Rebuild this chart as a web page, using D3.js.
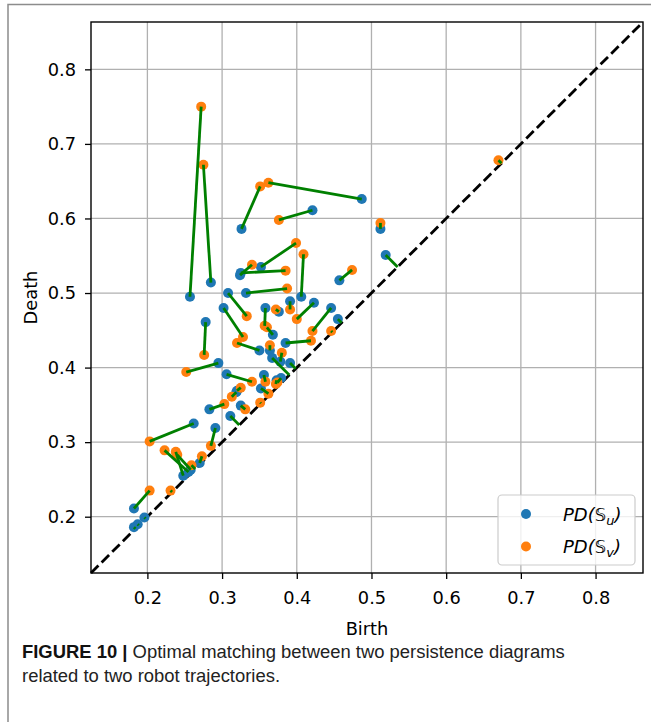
<!DOCTYPE html>
<html>
<head>
  <script src="https://d3js.org/d3.v7.min.js"></script>
  <style>
    html, body { margin: 0; padding: 0; background: white; }
    .tick text { font-family: "DejaVu Sans", sans-serif; font-size: 17.8px; fill: #000; }
    .axisLabel { font-family: "DejaVu Sans", sans-serif; font-size: 17.8px; fill: #000; }
    .legendText { font-family: "DejaVu Sans", sans-serif; font-size: 18px; font-style: italic; fill: #000; }
    .caption { font-family: "Liberation Sans Narrow", "Liberation Sans", Arial, sans-serif; font-size: 19px; fill: #222; }
  </style>
</head>
<body>
<script>
  const width = 651;
  const height = 722;
  const frame = {left: 91, right: 643, top: 22, bottom: 573};

  // persistence diagram of S_u : [birth, death]
  const pdU = [
    [0.257, 0.495], [0.285, 0.514], [0.326, 0.586], [0.487, 0.626], [0.421, 0.611],
    [0.512, 0.586], [0.519, 0.551], [0.352, 0.535], [0.324, 0.524], [0.325, 0.527],
    [0.406, 0.495], [0.457, 0.517], [0.332, 0.500], [0.308, 0.500], [0.302, 0.480],
    [0.358, 0.480], [0.368, 0.444], [0.376, 0.475], [0.391, 0.489], [0.423, 0.487],
    [0.446, 0.480], [0.455, 0.465], [0.385, 0.433], [0.350, 0.423], [0.278, 0.461],
    [0.364, 0.423], [0.367, 0.413], [0.378, 0.408], [0.391, 0.406], [0.295, 0.406],
    [0.306, 0.391], [0.356, 0.390], [0.373, 0.383], [0.379, 0.386], [0.320, 0.369],
    [0.319, 0.367], [0.352, 0.372], [0.283, 0.344], [0.325, 0.349], [0.311, 0.335],
    [0.262, 0.325], [0.291, 0.319], [0.255, 0.260], [0.248, 0.255], [0.258, 0.263],
    [0.270, 0.272], [0.182, 0.211], [0.196, 0.199], [0.182, 0.186], [0.187, 0.190]
  ];

  // persistence diagram of S_v : [birth, death]
  const pdV = [
    [0.272, 0.750], [0.275, 0.672], [0.351, 0.643], [0.362, 0.648], [0.376, 0.598],
    [0.512, 0.594], [0.670, 0.678], [0.399, 0.567], [0.340, 0.538], [0.385, 0.530],
    [0.409, 0.552], [0.474, 0.531], [0.387, 0.506], [0.333, 0.469], [0.328, 0.441],
    [0.357, 0.456], [0.360, 0.454], [0.372, 0.478], [0.391, 0.478], [0.400, 0.465],
    [0.421, 0.449], [0.446, 0.449], [0.419, 0.436], [0.320, 0.433], [0.276, 0.417],
    [0.364, 0.430], [0.380, 0.420], [0.252, 0.394], [0.340, 0.381], [0.358, 0.381],
    [0.372, 0.378], [0.374, 0.380], [0.325, 0.373], [0.313, 0.361], [0.362, 0.365],
    [0.303, 0.351], [0.331, 0.344], [0.351, 0.353], [0.203, 0.301], [0.285, 0.295],
    [0.223, 0.289], [0.238, 0.287], [0.240, 0.283], [0.273, 0.281], [0.259, 0.269],
    [0.231, 0.235], [0.203, 0.235]
  ];

  // optimal matching [index in pdU, index in pdV], -1 = matched to the diagonal
  const matching = [
    [0, 0], [1, 1], [2, 2], [3, 3], [4, 4], [5, 5], [6, -1], [-1, 6], [7, 7], [8, 8],
    [9, 9], [10, 10], [11, 11], [12, 12], [13, 13], [14, 14], [15, 15], [16, 16], [17, 17],
    [18, 18], [19, 19], [20, 20], [21, -1], [-1, 21], [22, 22], [23, 23], [24, 24], [25, 25],
    [26, -1], [27, 26], [28, -1], [29, 27], [30, 28], [31, 29], [32, 30], [33, 31], [34, 32],
    [35, 33], [36, 34], [37, 35], [38, 36], [39, -1], [-1, 37], [40, 38], [41, 39], [42, 40],
    [43, 41], [44, 42], [45, 43], [-1, 44], [-1, 45], [46, 46], [47, -1], [48, -1], [49, -1]
  ];

  const ticks = [0.2, 0.3, 0.4, 0.5, 0.6, 0.7, 0.8];
  const limits = [0.1245, 0.8635];

  const svg = d3.select("body").append("svg")
    .attr("width", width)
    .attr("height", height);

  // outer figure border (runs off the right/bottom edge)
  svg.append("rect")
    .attr("x", 8).attr("y", 4.5)
    .attr("width", 800).attr("height", 900)
    .attr("fill", "none")
    .attr("stroke", "#8c8c8c")
    .attr("stroke-width", 1.5);

  const x = d3.scaleLinear().domain(limits).range([frame.left, frame.right]);
  const y = d3.scaleLinear().domain(limits).range([frame.bottom, frame.top]);

  // grid
  const grid = svg.append("g").attr("stroke", "#b0b0b0").attr("stroke-width", 1.3);
  grid.selectAll(".gx").data(ticks).enter().append("line")
    .attr("x1", d => x(d)).attr("x2", d => x(d))
    .attr("y1", frame.top).attr("y2", frame.bottom);
  grid.selectAll(".gy").data(ticks).enter().append("line")
    .attr("y1", d => y(d)).attr("y2", d => y(d))
    .attr("x1", frame.left).attr("x2", frame.right);

  // axes
  const xAxis = svg.append("g")
    .attr("transform", `translate(0,${frame.bottom})`)
    .call(d3.axisBottom(x).tickValues(ticks).tickFormat(d3.format(".1f")).tickSize(6).tickPadding(12));
  const yAxis = svg.append("g")
    .attr("transform", `translate(${frame.left},0)`)
    .call(d3.axisLeft(y).tickValues(ticks).tickFormat(d3.format(".1f")).tickSize(6).tickPadding(9));
  [xAxis, yAxis].forEach(a => {
    a.select(".domain").remove();
    a.selectAll(".tick line").attr("stroke", "#000").attr("stroke-width", 1.3);
    a.attr("font-family", null).attr("font-size", null);
  });

  // diagonal
  svg.append("line")
    .attr("x1", x(limits[0])).attr("y1", y(limits[0]))
    .attr("x2", x(limits[1])).attr("y2", y(limits[1]))
    .attr("stroke", "#000")
    .attr("stroke-width", 2.8)
    .attr("stroke-dasharray", "10.5,4.5");

  // points
  svg.append("g").selectAll("circle")
    .data(pdU).enter().append("circle")
    .attr("cx", d => x(d[0])).attr("cy", d => y(d[1]))
    .attr("r", 5).attr("fill", "#1f77b4");
  svg.append("g").selectAll("circle")
    .data(pdV).enter().append("circle")
    .attr("cx", d => x(d[0])).attr("cy", d => y(d[1]))
    .attr("r", 5).attr("fill", "#ff7f0e");

  // matching lines (unmatched points go to their diagonal projection)
  function diagProj(p) { const m = (p[0] + p[1]) / 2; return [m, m]; }
  const segments = matching.map(([i, j]) => {
    const a = i >= 0 ? pdU[i] : diagProj(pdV[j]);
    const b = j >= 0 ? pdV[j] : diagProj(pdU[i]);
    return [a, b];
  });
  svg.append("g").selectAll("line")
    .data(segments).enter().append("line")
    .attr("x1", d => x(d[0][0])).attr("y1", d => y(d[0][1]))
    .attr("x2", d => x(d[1][0])).attr("y2", d => y(d[1][1]))
    .attr("stroke", "#008000")
    .attr("stroke-width", 2.8);

  // frame
  svg.append("rect")
    .attr("x", frame.left).attr("y", frame.top)
    .attr("width", frame.right - frame.left)
    .attr("height", frame.bottom - frame.top)
    .attr("fill", "none")
    .attr("stroke", "#000")
    .attr("stroke-width", 1.4);

  // axis labels
  svg.append("text")
    .attr("class", "axisLabel")
    .attr("x", (frame.left + frame.right) / 2)
    .attr("y", 635)
    .attr("text-anchor", "middle")
    .text("Birth");
  svg.append("text")
    .attr("class", "axisLabel")
    .attr("transform", `translate(37,${(frame.top + frame.bottom) / 2}) rotate(-90)`)
    .attr("text-anchor", "middle")
    .text("Death");

  // legend
  const legendItems = [
    {sub: "u", color: "#1f77b4"},
    {sub: "v", color: "#ff7f0e"}
  ];
  const legend = svg.append("g");
  legend.append("rect")
    .attr("x", 498).attr("y", 495)
    .attr("width", 137).attr("height", 70)
    .attr("rx", 4)
    .attr("fill", "white").attr("fill-opacity", 0.8)
    .attr("stroke", "#cccccc").attr("stroke-width", 1.2);
  legendItems.forEach((d, i) => {
    const cy = 514 + i * 32.5;
    legend.append("circle")
      .attr("cx", 526).attr("cy", cy).attr("r", 5).attr("fill", d.color);
    const t = legend.append("text")
      .attr("class", "legendText")
      .attr("x", 563).attr("y", cy + 6.5);
    t.append("tspan").text("PD(");
    t.append("tspan").style("font-style", "normal").text("\u{1D54A}");
    t.append("tspan").attr("dy", 4).attr("font-size", "13px").text(d.sub);
    t.append("tspan").attr("dy", -4).text(")");
  });

  // caption
  const cap1 = svg.append("text").attr("class", "caption").attr("x", 22).attr("y", 658);
  cap1.append("tspan").attr("font-weight", "bold").attr("fill", "#111").text("FIGURE 10 | ");
  cap1.append("tspan").text("Optimal matching between two persistence diagrams");
  const cap2 = svg.append("text").attr("class", "caption").attr("x", 22).attr("y", 682)
    .text("related to two robot trajectories.");

  // fit caption lines to their width in the figure
  const w1 = cap1.node().getComputedTextLength();
  const fs = 19 * 543 / w1;
  cap1.style("font-size", fs + "px");
  cap2.style("font-size", fs + "px");
</script>
</body>
</html>
